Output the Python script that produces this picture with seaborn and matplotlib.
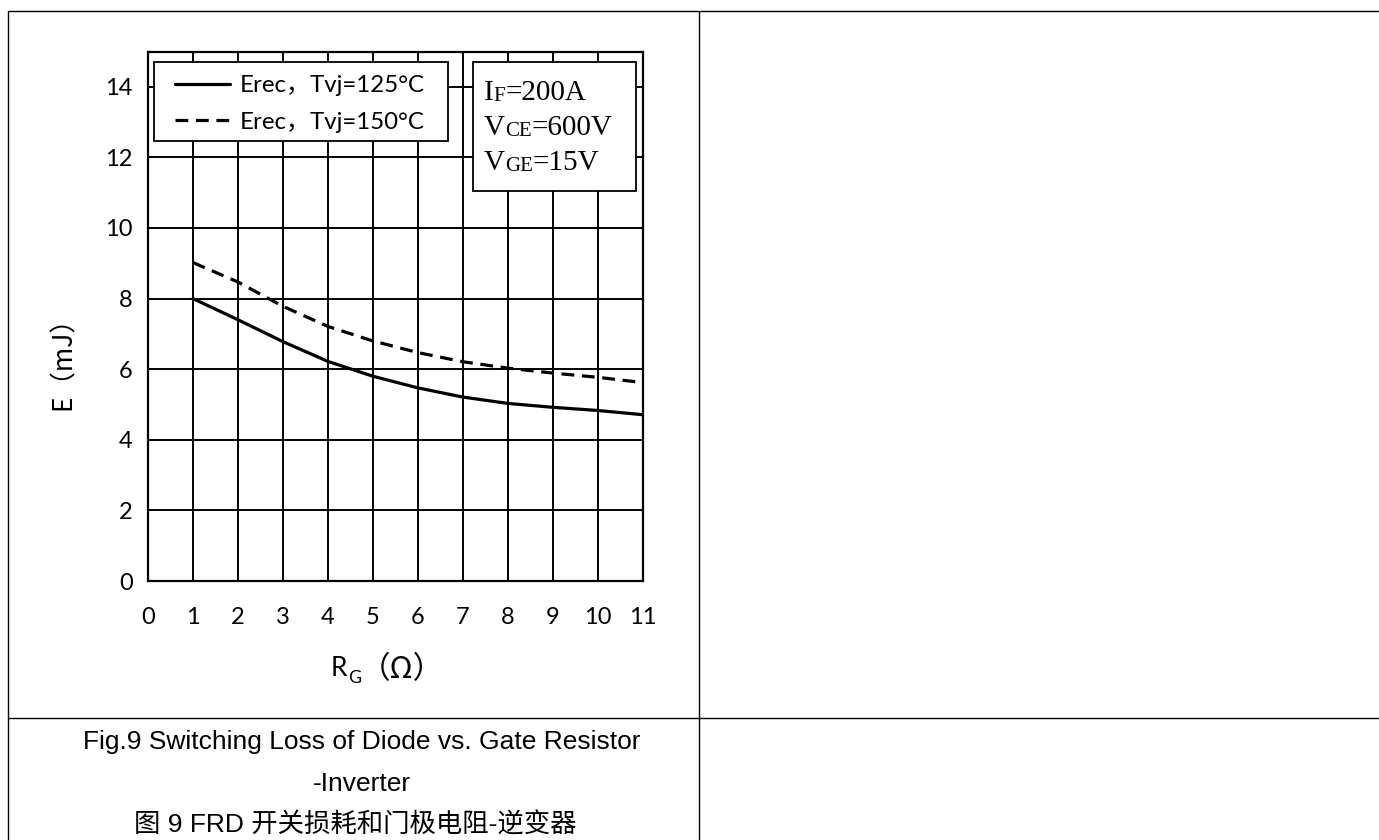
import numpy as np
import pandas as pd
import matplotlib
matplotlib.use("Agg")
import matplotlib.pyplot as plt
from matplotlib.lines import Line2D
from matplotlib.patches import Rectangle
import seaborn as sns

# ---- data ----
rg = [1, 2, 3, 4, 5, 6, 7, 8, 9, 10, 11]
erec_125 = [8.00, 7.40, 6.78, 6.22, 5.80, 5.47, 5.21, 5.03, 4.92, 4.83, 4.71]
erec_150 = [9.02, 8.47, 7.78, 7.21, 6.80, 6.47, 6.21, 6.03, 5.89, 5.77, 5.62]
series_names = ["Erec，Tvj=125°C", "Erec，Tvj=150°C"]
x_ticks = list(range(0, 12))
y_ticks = list(range(0, 15, 2))

df = pd.DataFrame({
    "RG": rg + rg,
    "E": erec_125 + erec_150,
    "series": [series_names[0]] * len(rg) + [series_names[1]] * len(rg),
})

sns.set_theme(style="white")
plt.rcParams["font.family"] = ["Lato", "Noto Sans CJK SC", "DejaVu Sans"]
for k in ["text.color", "axes.labelcolor", "xtick.color", "ytick.color"]:
    plt.rcParams[k] = "black"

fig = plt.figure(figsize=(13.79, 8.40), dpi=100)
W, H = 1379, 840
AX_L, AX_R, AX_T, AX_B = 148, 643, 51.5, 581
ax = fig.add_axes([AX_L / W, 1 - AX_B / H, (AX_R - AX_L) / W, (AX_B - AX_T) / H])

def axfrac(px, py):
    return (px - AX_L) / (AX_R - AX_L), (AX_B - py) / (AX_B - AX_T)

sns.lineplot(data=df, x="RG", y="E", hue="series", style="series",
             palette={series_names[0]: "black", series_names[1]: "black"},
             dashes={series_names[0]: "", series_names[1]: (4, 2.4)},
             linewidth=2.3, ax=ax, legend=False, zorder=3)

ax.set_xlim(0, 11)
ax.set_ylim(0, 15)
ax.set_xticks(x_ticks)
ax.set_yticks(y_ticks)
ax.set_xticklabels([str(v) for v in x_ticks], fontsize=17)
ax.set_yticklabels([str(v) for v in y_ticks], fontsize=17)
ax.tick_params(axis="x", length=0, pad=19)
ax.tick_params(axis="y", length=0, pad=11)
ax.grid(True, color="black", linewidth=1.4)
ax.set_axisbelow(True)
for s in ax.spines.values():
    s.set_color("black")
    s.set_linewidth(1.6)
ax.set_xlabel("")
ax.set_ylabel("")

# axis labels
cjk = ["Noto Sans CJK SC", "DejaVu Sans"]
fig.text(63 / W, 1 - 357 / H, "E（mJ）", rotation=90, ha="center", va="center",
         fontsize=19, family=cjk)
fig.text(347 / W, 1 - 668 / H, "R", ha="right", va="center", fontsize=19)
fig.text(348 / W, 1 - 678 / H, "G", ha="left", va="center", fontsize=13)
fig.text(360 / W, 1 - 670 / H, "（Ω）", ha="left", va="center", fontsize=22, family=cjk)

# legend (frame drawn as a box, entries from a real legend)
lx0, ly0 = axfrac(154, 141)
lx1, ly1 = axfrac(448, 62)
ax.add_patch(Rectangle((lx0, ly0), lx1 - lx0, ly1 - ly0, transform=ax.transAxes,
                       facecolor="white", edgecolor="black", lw=1.3, zorder=4))
handles = [Line2D([], [], color="black", lw=2.3),
           Line2D([], [], color="black", lw=2.3, dashes=(4, 2.4))]
leg = ax.legend(handles, series_names, loc="upper left",
                bbox_to_anchor=axfrac(175, 75),
                borderaxespad=0, frameon=False,
                fontsize=17.3, handlelength=2.3, handletextpad=0.38,
                labelspacing=0.66, borderpad=0)
leg.set_zorder(5)

# condition box
bx0, by0 = axfrac(473, 191)
bx1, by1 = axfrac(636, 62)
ax.add_patch(Rectangle((bx0, by0), bx1 - bx0, by1 - by0, transform=ax.transAxes,
                       facecolor="white", edgecolor="black", lw=1.3, zorder=5))
serif = ["Liberation Serif"]
cond_lines = [("I", "F", "=200A"), ("V", "CE", "=600V"), ("V", "GE", "=15V")]
for i, (a, b, c) in enumerate(cond_lines):
    t1 = ax.text(*axfrac(484, 100 + i * 35), a, transform=ax.transAxes,
                 family=serif, fontsize=21, va="baseline", ha="left", zorder=6)
    t2 = ax.annotate(b, xy=(1, 0), xycoords=t1, family=serif, fontsize=15,
                     va="bottom", ha="left", zorder=6)
    ax.annotate(c, xy=(1, 0), xycoords=t2, family=serif, fontsize=21,
                va="bottom", ha="left", zorder=6)

# table lines
lw_t = 1.0
def hline(y, x0, x1):
    fig.add_artist(Line2D([x0 / W, x1 / W], [1 - y / H, 1 - y / H], color="black", lw=lw_t))
def vline(x, y0, y1):
    fig.add_artist(Line2D([x / W, x / W], [1 - y0 / H, 1 - y1 / H], color="black", lw=lw_t))
hline(11, 8, 1379)
hline(718, 8, 1379)
vline(8, 11, 840)
vline(699, 11, 840)

# caption
cap_fam = ["Liberation Sans", "Noto Sans CJK SC"]
fig.text(362 / W, 1 - 742 / H, "Fig.9 Switching Loss of Diode vs. Gate Resistor",
         ha="center", va="center", fontsize=19, family=cap_fam)
fig.text(362 / W, 1 - 784 / H, "-Inverter", ha="center", va="center", fontsize=19, family=cap_fam)
fig.text(355 / W, 1 - 825 / H, "图 9 FRD 开关损耗和门极电阻-逆变器",
         ha="center", va="center", fontsize=19, family=cap_fam)

fig.savefig("out.png", dpi=100)
